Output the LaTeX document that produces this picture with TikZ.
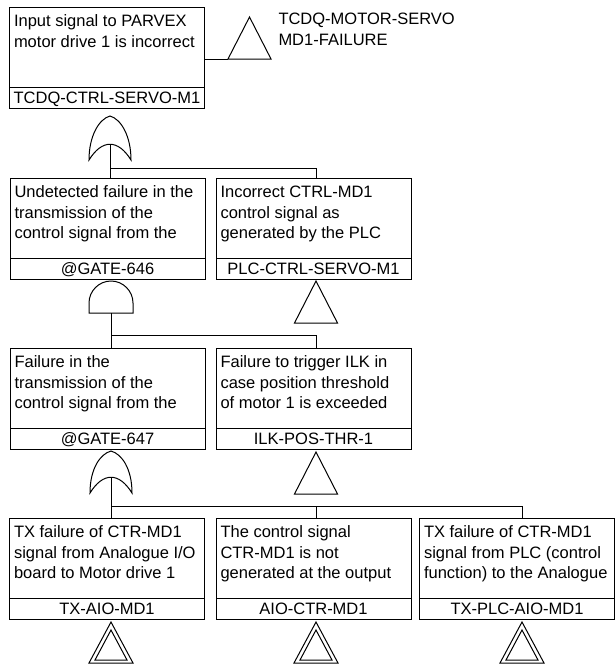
\documentclass[tikz,border=0pt]{standalone}
\usepackage{fontspec}
\setmainfont{Liberation Sans}
\usetikzlibrary{calc}

\tikzset{
  evbox/.style={draw, anchor=north west, minimum width=195pt, minimum height=101pt, inner sep=0pt, outer sep=0pt},
  evtext/.style={anchor=base west, inner sep=0pt, font=\fontsize{16.5}{20.5}\selectfont},
  evlabel/.style={anchor=base, inner sep=0pt, font=\fontsize{16.5}{19}\selectfont},
  symb/.style={draw, line join=miter},
  wire/.style={draw},
}

% fault event box: name, x, y (top left), description, identifier
\newcommand\faultevent[5]{%
  \node[evbox] (#1) at (#2,#3) {};
  \draw ($(#1.south west)+(0,-21)$) -- ($(#1.south east)+(0,-21)$);
  \node[evtext] (#1txt) at ($(#1.north west)+(4,19.5)$)
    {\parbox[t]{190pt}{\raggedright #4}};
  \node[evlabel] (#1lbl) at ($(#1.south)+(0,-5)$) {#5};
}
% OR gate: name, centre x, top y, bottom y
\newcommand\orgate[4]{%
  \draw[symb] (#2-21,#4) .. controls (#2-21,#4-24) and (#2-11,#3+3) .. (#2,#3)
    .. controls (#2+11,#3+3) and (#2+21,#4-24) .. (#2+21,#4)
    .. controls (#2+8,#4-21) and (#2-8,#4-21) .. cycle;
  \coordinate (#1) at (#2,#4-16);
}
% AND gate: name, centre x, top y, bottom y
\newcommand\andgate[4]{%
  \draw[symb] (#2-22,#4) -- (#2-22,#3+22)
    .. controls (#2-22,#3+10) and (#2-12,#3) .. (#2,#3)
    .. controls (#2+12,#3) and (#2+22,#3+10) .. (#2+22,#3+22)
    -- (#2+22,#4) -- cycle;
  \coordinate (#1) at (#2,#4);
}
% transfer triangle: name, centre x, top y, bottom y
\newcommand\transfer[4]{%
  \draw[symb] (#2,#3) -- (#2+21.5,#4) -- (#2-21.5,#4) -- cycle;
  \coordinate (#1) at (#2-21.5,#4);
}
% undeveloped (double) triangle: centre x, top y, bottom y
\newcommand\basictri[3]{%
  \draw[symb] (#1,#2) -- (#1+22,#3) -- (#1-22,#3) -- cycle;
  \draw[symb] (#1,#2+8) -- (#1+16,#3-3) -- (#1-16,#3-3) -- cycle;
}

\begin{document}
\begin{tikzpicture}[x=1pt, y=-1pt, line width=1pt]
\useasboundingbox (0,0) rectangle (615,665);

% top event
\faultevent{eTop}{9.5}{7}{Input signal to PARVEX\\motor drive 1 is incorrect}{TCDQ-CTRL-SERVO-M1}
\transfer{tTop}{249.5}{17}{59}
\draw[wire] (eTop.east |- tTop) -- (tTop);
\node[anchor=base west, inner sep=0pt, font=\fontsize{16.5}{21}\selectfont] (tTopname) at (278,24)
  {\parbox[t]{200pt}{\raggedright TCDQ-MOTOR-SERVO\\MD1-FAILURE}};
\orgate{g1}{110}{116}{160}

% second level
\faultevent{e646}{10}{178}{Undetected failure in the\\transmission of the\\control signal from the}{@GATE-646}
\faultevent{ePLC}{216}{178}{Incorrect CTRL-MD1\\control signal as\\generated by the PLC}{PLC-CTRL-SERVO-M1}
\coordinate (b1) at (316,168);
\draw[wire] (g1) -- (g1 |- e646.north);
\draw[wire] (g1 |- b1) -| (b1 |- ePLC.north);
\andgate{g2}{111}{281}{313}
\transfer{tPLC}{316}{281}{323}

% third level
\faultevent{e647}{10}{348}{Failure in the\\transmission of the\\control signal from the}{@GATE-647}
\faultevent{eILK}{216}{348}{Failure to trigger ILK in\\case position threshold\\of motor 1 is exceeded}{ILK-POS-THR-1}
\coordinate (b2) at (316,335);
\draw[wire] (g2) -- (g2 |- e647.north);
\draw[wire] (g2 |- b2) -| (b2 |- eILK.north);
\orgate{g3}{111}{451}{493}
\transfer{tILK}{316}{452}{494}

% basic events
\faultevent{eAIO}{9.5}{518}{TX failure of CTR-MD1\\signal from Analogue I/O\\board to Motor drive 1}{TX-AIO-MD1}
\faultevent{eCTR}{216}{518}{The control signal\\CTR-MD1 is not\\generated at the output}{AIO-CTR-MD1}
\faultevent{ePLCAIO}{419.5}{518}{TX failure of CTR-MD1\\signal from PLC (control\\function) to the Analogue}{TX-PLC-AIO-MD1}
\coordinate (b3m) at (316,506);
\coordinate (b3r) at (522,506);
\draw[wire] (g3) -- (g3 |- eAIO.north);
\draw[wire] (g3 |- b3r) -- (b3r) -- (b3r |- ePLCAIO.north);
\draw[wire] (b3m) -- (b3m |- eCTR.north);
\basictri{111}{622}{663}
\basictri{316}{622}{663}
\basictri{522}{622}{663}
\end{tikzpicture}
\end{document}
